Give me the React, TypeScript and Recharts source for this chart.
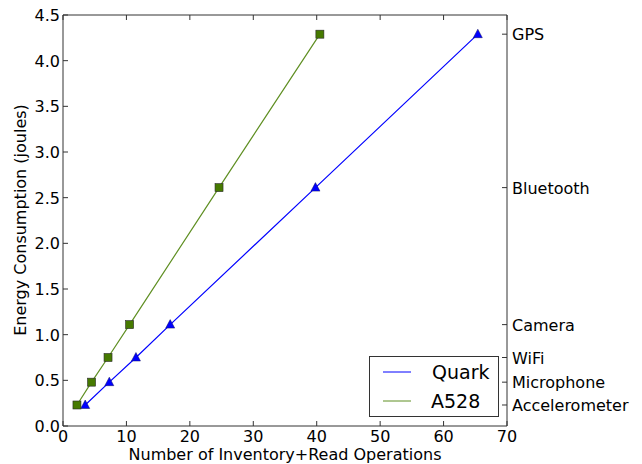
import React from "react";
import { LineChart, Line, XAxis, YAxis } from "recharts";

// energy per sensor (joules) and the ops needed on each platform
const energyJ = [0.23, 0.48, 0.75, 1.11, 2.61, 4.29];
const sensorNames = ["Accelerometer", "Microphone", "WiFi", "Camera", "Bluetooth", "GPS"];
const quarkOps = [3.5, 7.3, 11.5, 16.9, 39.8, 65.4];
const a528Ops = [2.2, 4.5, 7.1, 10.5, 24.6, 40.5];

const xTicks = [0, 10, 20, 30, 40, 50, 60, 70];
const yTicks = [0, 0.5, 1, 1.5, 2, 2.5, 3, 3.5, 4, 4.5];

const quarkData = quarkOps.map((x, i) => ({ x, y: energyJ[i] }));
const a528Data = a528Ops.map((x, i) => ({ x, y: energyJ[i] }));

const FONT = "DejaVu Sans, sans-serif";
const AXIS = "#333";
const BLUE = "#0000ff";
const GREEN_LINE = "#5f8f22";
const GREEN_FILL = "#467a00";

// layout
const W = 642;
const H = 464;
const TOP = 15;
const X_AXIS_H = 38;
const LEFT_W = 63;
const RIGHT_W = 135;
const PLOT_W = W - LEFT_W - RIGHT_W;
const PLOT_H = H - TOP - X_AXIS_H;

const SquareDot = (props: any) => {
  const { cx, cy } = props;
  if (cx == null || cy == null) return null;
  return (
    <rect x={cx - 4} y={cy - 4} width={8} height={8} fill={GREEN_FILL} stroke="#2a2a2a" strokeWidth={0.6} />
  );
};

const TriDot = (props: any) => {
  const { cx, cy } = props;
  if (cx == null || cy == null) return null;
  return (
    <polygon
      points={`${cx},${cy - 5} ${cx - 4.5},${cy + 3.5} ${cx + 4.5},${cy + 3.5}`}
      fill={BLUE}
      stroke="#101060"
      strokeWidth={0.5}
    />
  );
};

// matplotlib style inward ticks, also mirrored on the top edge
const BottomTick = (props: any) => {
  const { x, y, payload } = props;
  return (
    <g>
      <line x1={x} x2={x} y1={y} y2={y - 5} stroke={AXIS} />
      <line x1={x} x2={x} y1={y - PLOT_H} y2={y - PLOT_H + 5} stroke={AXIS} />
      <text x={x} y={y + 16} textAnchor="middle" fontFamily={FONT} fontSize={16} fill="#000">
        {payload.value}
      </text>
    </g>
  );
};

const LeftTick = (props: any) => {
  const { x, y, payload } = props;
  const axisX = x + 3;
  return (
    <g>
      <line x1={axisX} x2={axisX + 5} y1={y} y2={y} stroke={AXIS} />
      {payload.value === 4.5 && (
        // top edge of the frame
        <line x1={axisX} x2={axisX + PLOT_W} y1={y} y2={y} stroke={AXIS} />
      )}
      <text x={x} y={y} dy={6} textAnchor="end" fontFamily={FONT} fontSize={16} fill="#000">
        {Number(payload.value).toFixed(1)}
      </text>
    </g>
  );
};

const RightTick = (props: any) => {
  const { x, y, payload } = props;
  const idx = energyJ.indexOf(payload.value);
  return (
    <g>
      <line x1={x - 5} x2={x - 10} y1={y} y2={y} stroke={AXIS} />
      <text x={x} y={y} dy={6} textAnchor="start" fontFamily={FONT} fontSize={16} fill="#000">
        {sensorNames[idx]}
      </text>
    </g>
  );
};

const LegendBox = () => (
  <svg
    width={130}
    height={61}
    style={{ position: "absolute", left: 369, top: 356, display: "block" }}
  >
    <rect x={0.5} y={0.5} width={129} height={60} fill="#fff" stroke={AXIS} strokeWidth={1} />
    <line x1={14} x2={42} y1={16} y2={16} stroke={BLUE} />
    <text x={63} y={23} fontFamily={FONT} fontSize={19} fill="#000">Quark</text>
    <line x1={14} x2={42} y1={45} y2={45} stroke={GREEN_LINE} />
    <text x={62} y={52} fontFamily={FONT} fontSize={19} fill="#000">A528</text>
  </svg>
);

export default function App() {
  return (
    <div style={{ position: "absolute", left: 0, top: 0, width: W, height: H, background: "#fff" }}>
      <LineChart width={W} height={H} margin={{ top: TOP, right: 0, bottom: 0, left: 0 }}>
        <XAxis
          xAxisId="bottom"
          type="number"
          dataKey="x"
          domain={[0, 70]}
          ticks={xTicks}
          interval={0}
          tickLine={false}
          tickSize={0}
          tickMargin={0}
          height={X_AXIS_H}
          stroke={AXIS}
          tick={<BottomTick />}
          label={{
            value: "Number of Inventory+Read Operations",
            position: "insideBottom",
            offset: 4,
            style: { fontFamily: FONT, fontSize: 16, fill: "#000" },
          }}
        />
        <YAxis
          yAxisId="left"
          type="number"
          domain={[0, 4.5]}
          ticks={yTicks}
          interval={0}
          tickLine={false}
          tickSize={0}
          tickMargin={3}
          width={LEFT_W}
          stroke={AXIS}
          tick={<LeftTick />}
          label={{
            content: () => (
              <text
                x={26}
                y={220}
                transform="rotate(-90 26 220)"
                textAnchor="middle"
                fontFamily={FONT}
                fontSize={16}
                fill="#000"
              >
                Energy Consumption (joules)
              </text>
            ),
          }}
        />
        <YAxis
          yAxisId="right"
          orientation="right"
          type="number"
          domain={[0, 4.5]}
          ticks={energyJ}
          interval={0}
          tickLine={false}
          tickSize={0}
          tickMargin={5}
          width={RIGHT_W}
          stroke={AXIS}
          tick={<RightTick />}
        />
        {/* invisible series so the right axis gets drawn */}
        <Line
          xAxisId="bottom"
          yAxisId="right"
          data={quarkData}
          dataKey="y"
          stroke="none"
          dot={false}
          activeDot={false}
          legendType="none"
          isAnimationActive={false}
        />
        <Line
          xAxisId="bottom"
          yAxisId="left"
          data={quarkData}
          dataKey="y"
          name="Quark"
          stroke={BLUE}
          strokeWidth={1.2}
          dot={<TriDot />}
          activeDot={false}
          isAnimationActive={false}
        />
        <Line
          xAxisId="bottom"
          yAxisId="left"
          data={a528Data}
          dataKey="y"
          name="A528"
          stroke={GREEN_LINE}
          strokeWidth={1.2}
          dot={<SquareDot />}
          activeDot={false}
          isAnimationActive={false}
        />
      </LineChart>
      <LegendBox />
    </div>
  );
}
